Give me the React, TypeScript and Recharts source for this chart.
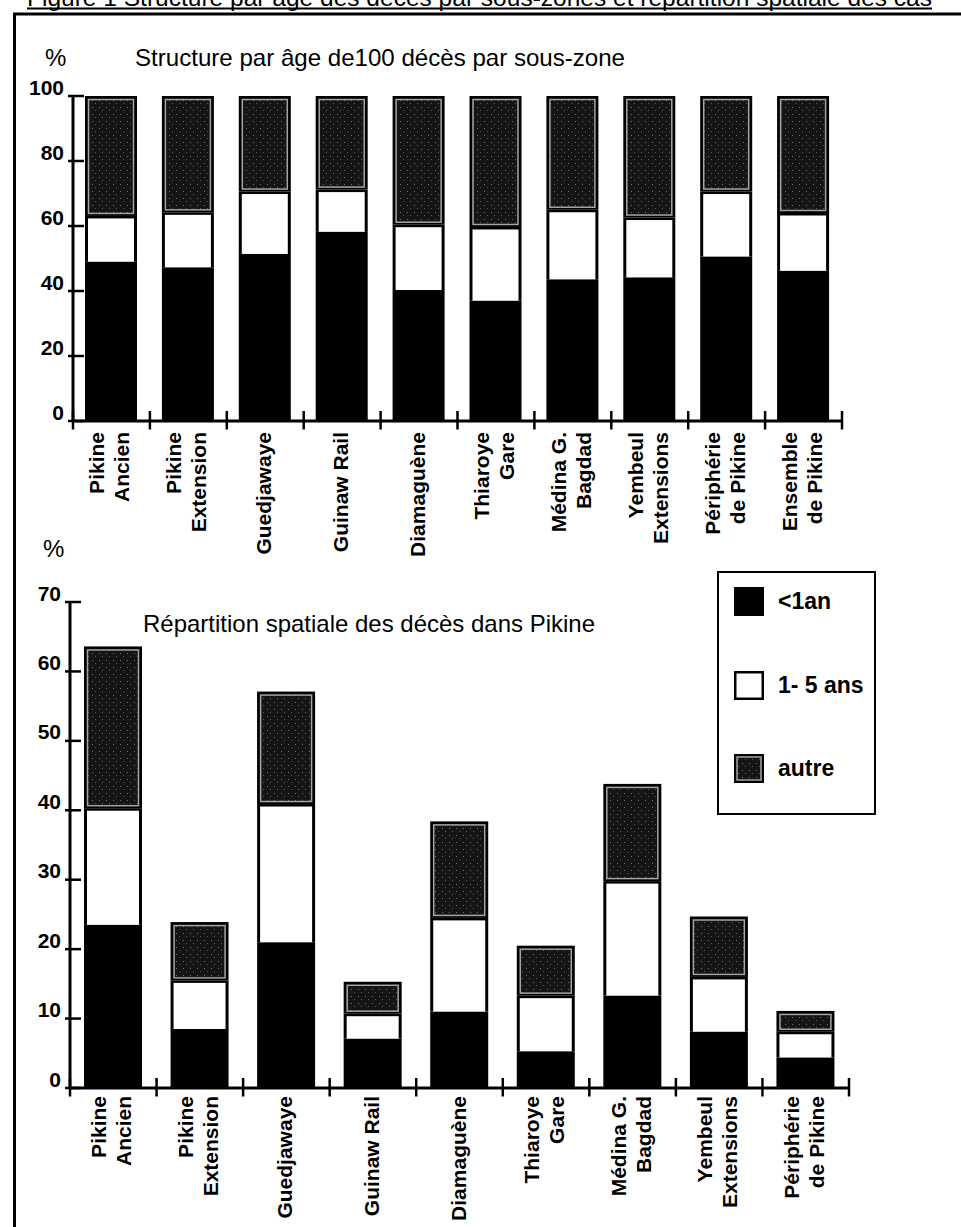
import React from 'react';
import { BarChart, Bar, XAxis, YAxis, Legend } from 'recharts';

// Catégories (sous-zones), "\n" marque le retour à la ligne des étiquettes
const TOP_CATEGORIES = [
  'Pikine\nAncien',
  'Pikine\nExtension',
  'Guedjawaye',
  'Guinaw Rail',
  'Diamaguène',
  'Thiaroye\nGare',
  'Médina G.\nBagdad',
  'Yembeul\nExtensions',
  'Périphérie\nde Pikine',
  'Ensemble\nde Pikine',
];
const BOTTOM_CATEGORIES = TOP_CATEGORIES.slice(0, 9);

const SERIES_NAMES = ['<1an', '1- 5 ans', 'autre'];

// Structure par âge de 100 décès (%)
const TOP_MOINS_1AN = [49.0, 47.3, 51.4, 58.2, 40.3, 37.0, 43.6, 44.2, 50.6, 46.2];
const TOP_1_5_ANS = [14.1, 16.9, 19.2, 13.0, 20.1, 22.7, 21.4, 18.4, 20.0, 17.8];
const TOP_AUTRE = [36.9, 35.8, 29.4, 28.8, 39.6, 40.3, 35.0, 37.4, 29.4, 36.0];

// Répartition spatiale des décès (%)
const BOTTOM_MOINS_1AN = [23.5, 8.5, 21.0, 7.1, 11.0, 5.3, 13.3, 8.1, 4.4];
const BOTTOM_1_5_ANS = [16.8, 7.0, 19.9, 3.6, 13.5, 8.0, 16.5, 7.9, 3.7];
const BOTTOM_AUTRE = [23.3, 8.4, 16.2, 4.6, 13.9, 7.2, 14.0, 8.7, 3.0];

const TOP_Y_TICKS = [0, 20, 40, 60, 80, 100];
const BOTTOM_Y_TICKS = [0, 10, 20, 30, 40, 50, 60, 70];

const FONT = '"Liberation Sans", Arial, Helvetica, sans-serif';

const W = 961;
const TOP_MARGIN = { top: 96, left: 13, right: 119, bottom: 138 };
const BOTTOM_MARGIN = { top: 42, left: 10, right: 112, bottom: 138 };
const Y_AXIS_W = 60;

const buildRows = (cats: string[], a: number[], b: number[], c: number[]) =>
  cats.map((name, i) => ({ name, moins1: a[i], de1a5: b[i], autre: c[i] }));

const topData = buildRows(TOP_CATEGORIES, TOP_MOINS_1AN, TOP_1_5_ANS, TOP_AUTRE);
const bottomData = buildRows(BOTTOM_CATEGORIES, BOTTOM_MOINS_1AN, BOTTOM_1_5_ANS, BOTTOM_AUTRE);

// segments
const WhiteSeg = (p: any) => {
  const { x, y, width, height } = p;
  if (!height || height <= 0) return null;
  return (
    <g>
      <rect x={x} y={y} width={width} height={height} fill="#000" />
      <rect x={x + 3} y={y + 2.5} width={Math.max(0, width - 6)} height={Math.max(0, height - 2.5)} fill="#fff" />
    </g>
  );
};

const AutreSeg = (p: any) => {
  const { x, y, width, height } = p;
  if (!height || height <= 0) return null;
  return (
    <g>
      <rect x={x} y={y} width={width} height={height} fill="#000" />
      <rect
        x={x + 3.5}
        y={y + 3.5}
        width={Math.max(0, width - 7)}
        height={Math.max(0, height - 6)}
        fill="url(#speck)"
        stroke="#a5a5a5"
        strokeWidth={1.5}
      />
    </g>
  );
};

const YTick = (props: any) => {
  const { x, y, payload } = props;
  return (
    <g>
      <line x1={x - 5} x2={x + 11} y1={y} y2={y} stroke="#000" strokeWidth={2.5} />
      <text x={x - 9} y={y - 1.5} textAnchor="end" fontSize={21} fontWeight="bold" fontFamily={FONT} fill="#000">
        {payload.value}
      </text>
    </g>
  );
};

// étiquettes verticales + petits traits aux limites des catégories
const makeCatTick = (gap: number, band: number) => (props: any) => {
  const { x, y, payload, index } = props;
  const lines = String(payload.value).split('\n');
  const half = band / 2;
  return (
    <g>
      {index === 0 && <line x1={x - half} x2={x - half} y1={y - 10} y2={y + 8.5} stroke="#000" strokeWidth={2.5} />}
      <line x1={x + half} x2={x + half} y1={y - 10} y2={y + 8.5} stroke="#000" strokeWidth={2.5} />
      <g transform={`translate(${x},${y + gap})`}>
        {lines.map((l, i) => {
          const off = lines.length === 1 ? 6 : i === 0 ? -7 : 18;
          return (
            <text
              key={i}
              transform="rotate(-90)"
              x={0}
              y={off}
              textAnchor="end"
              fontSize={21}
              fontWeight="bold"
              fontFamily={FONT}
              fill="#000"
            >
              {l}
            </text>
          );
        })}
      </g>
    </g>
  );
};

const Swatch = ({ kind }: { kind: string }) => (
  <svg width={30} height={29} style={{ display: 'block' }}>
    {kind === 'moins1' && <rect x={0} y={0} width={30} height={29} fill="#000" />}
    {kind === 'de1a5' && <rect x={1.25} y={1.25} width={27.5} height={26.5} fill="#fff" stroke="#000" strokeWidth={2.5} />}
    {kind === 'autre' && (
      <g>
        <rect x={0} y={0} width={30} height={29} fill="#000" />
        <rect x={3} y={3} width={24} height={23} fill="url(#speck)" stroke="#a5a5a5" strokeWidth={1.5} />
      </g>
    )}
  </svg>
);

const LegendBox = (props: any) => {
  const items = [...(props.payload || [])].sort(
    (a: any, b: any) => SERIES_NAMES.indexOf(a.value) - SERIES_NAMES.indexOf(b.value)
  );
  return (
    <div style={{ position: 'relative', width: '100%', height: '100%' }}>
      {items.map((it: any, i: number) => (
        <div
          key={it.value}
          style={{ position: 'absolute', left: 15, top: 14 + i * 83.5, display: 'flex', alignItems: 'center' }}
        >
          <Swatch kind={it.dataKey} />
          <span style={{ marginLeft: 14, fontFamily: FONT, fontSize: 23, fontWeight: 'bold', color: '#000' }}>
            {it.value}
          </span>
        </div>
      ))}
    </div>
  );
};

export default function App() {
  const topBand = (W - TOP_MARGIN.left - TOP_MARGIN.right - Y_AXIS_W) / TOP_CATEGORIES.length;
  const bottomBand = (W - BOTTOM_MARGIN.left - BOTTOM_MARGIN.right - Y_AXIS_W) / BOTTOM_CATEGORIES.length;
  const topTick = makeCatTick(11, topBand);
  const bottomTick = makeCatTick(8, bottomBand);
  return (
    <div
      style={{
        position: 'absolute',
        left: 0,
        top: 0,
        width: 961,
        height: 1227,
        background: '#fff',
        overflow: 'hidden',
        fontFamily: FONT,
      }}
    >
      {/* Structure par âge */}
      <div style={{ position: 'absolute', left: 0, top: 0 }}>
        <BarChart width={W} height={560} data={topData} margin={TOP_MARGIN}>
          <XAxis
            dataKey="name"
            height={1}
            interval={0}
            axisLine={{ stroke: '#000', strokeWidth: 3 }}
            tickLine={false}
            tickSize={0}
            tickMargin={0}
            tick={topTick}
          />
          <YAxis
            type="number"
            domain={[0, 100]}
            ticks={TOP_Y_TICKS}
            interval={0}
            width={Y_AXIS_W}
            axisLine={{ stroke: '#000', strokeWidth: 3 }}
            tickLine={false}
            tickSize={0}
            tickMargin={0}
            tick={YTick}
          />
          <Bar dataKey="moins1" name={SERIES_NAMES[0]} stackId="a" fill="#000" barSize={52} isAnimationActive={false} />
          <Bar dataKey="de1a5" name={SERIES_NAMES[1]} stackId="a" fill="#fff" barSize={52} shape={WhiteSeg} isAnimationActive={false} />
          <Bar dataKey="autre" name={SERIES_NAMES[2]} stackId="a" fill="#222" barSize={52} shape={AutreSeg} isAnimationActive={false} />
        </BarChart>
      </div>

      {/* Répartition spatiale */}
      <div style={{ position: 'absolute', left: 0, top: 560 }}>
        <BarChart width={W} height={667} data={bottomData} margin={BOTTOM_MARGIN}>
          <XAxis
            dataKey="name"
            height={1}
            interval={0}
            axisLine={{ stroke: '#000', strokeWidth: 3 }}
            tickLine={false}
            tickSize={0}
            tickMargin={0}
            tick={bottomTick}
          />
          <YAxis
            type="number"
            domain={[0, 70]}
            ticks={BOTTOM_Y_TICKS}
            interval={0}
            width={Y_AXIS_W}
            axisLine={{ stroke: '#000', strokeWidth: 3 }}
            tickLine={false}
            tickSize={0}
            tickMargin={0}
            tick={YTick}
          />
          <Legend
            layout="horizontal"
            verticalAlign="middle"
            align="center"
            content={LegendBox}
            wrapperStyle={{
              position: 'absolute',
              left: 717,
              top: 11,
              width: 159,
              height: 244,
              border: '2.5px solid #000',
              boxSizing: 'border-box',
              background: '#fff',
            }}
          />
          <Bar dataKey="moins1" name={SERIES_NAMES[0]} stackId="a" fill="#000" barSize={58} isAnimationActive={false} />
          <Bar dataKey="de1a5" name={SERIES_NAMES[1]} stackId="a" fill="#fff" barSize={58} shape={WhiteSeg} isAnimationActive={false} />
          <Bar dataKey="autre" name={SERIES_NAMES[2]} stackId="a" fill="#222" barSize={58} shape={AutreSeg} isAnimationActive={false} />
        </BarChart>
      </div>

      {/* cadre, titres */}
      <svg width={961} height={1227} style={{ position: 'absolute', left: 0, top: 0, pointerEvents: 'none' }}>
        <defs>
          <pattern id="speck" width="7" height="7" patternUnits="userSpaceOnUse">
            <rect width="7" height="7" fill="#151515" />
            <rect x="1" y="2" width="1" height="1" fill="#707070" />
            <rect x="4" y="5" width="1" height="1" fill="#5a5a5a" />
          </pattern>
        </defs>
        <text x={27} y={6} fontSize={24} fontFamily={FONT} fill="#000" textLength={905} lengthAdjust="spacingAndGlyphs">
          Figure 1 Structure par âge des décès par sous-zones et répartition spatiale des cas
        </text>
        <line x1={27} x2={932} y1={8.5} y2={8.5} stroke="#000" strokeWidth={2} />
        <line x1={13} x2={961} y1={14} y2={14} stroke="#000" strokeWidth={3} />
        <line x1={14.5} x2={14.5} y1={13} y2={1227} stroke="#000" strokeWidth={3} />

        <text x={45} y={66} fontSize={24} fontFamily={FONT} fill="#000">%</text>
        <text x={135} y={66} fontSize={24} fontFamily={FONT} fill="#000" textLength={490} lengthAdjust="spacingAndGlyphs">
          Structure par âge de100 décès par sous-zone
        </text>
        <text x={43} y={557} fontSize={24} fontFamily={FONT} fill="#000">%</text>
        <text x={143} y={632} fontSize={24} fontFamily={FONT} fill="#000" textLength={452} lengthAdjust="spacingAndGlyphs">
          Répartition spatiale des décès dans Pikine
        </text>
      </svg>
    </div>
  );
}
